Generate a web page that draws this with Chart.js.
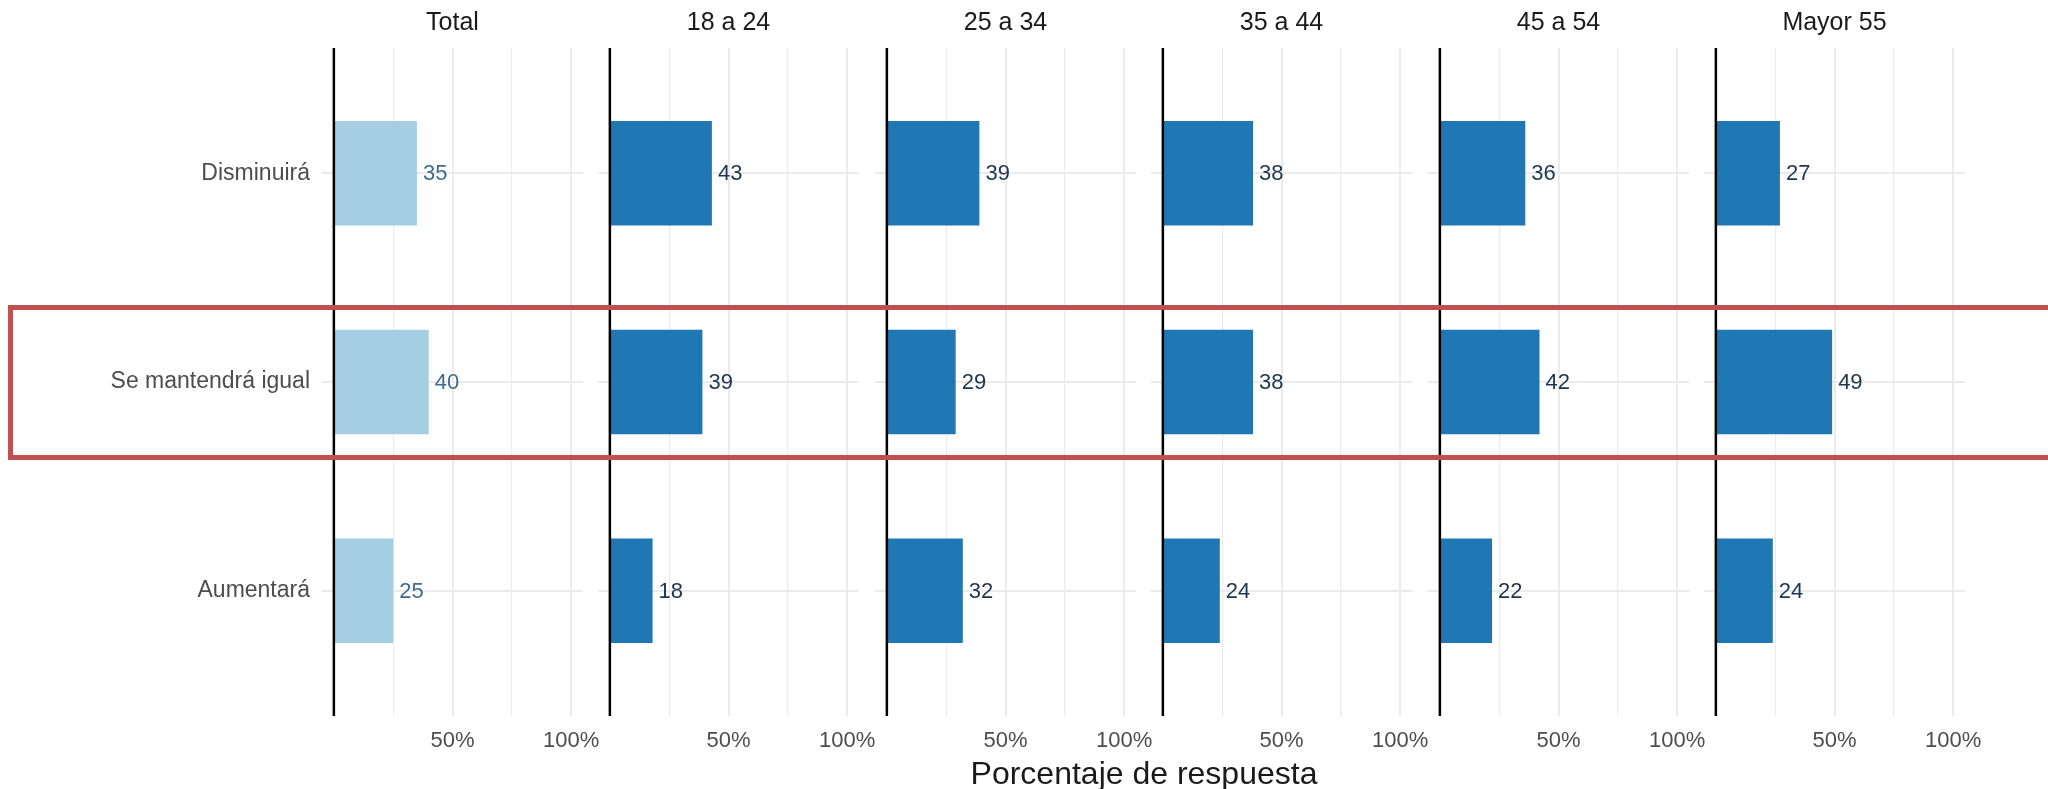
<!DOCTYPE html>
<html lang="es">
<head>
<meta charset="utf-8">
<script src="https://cdn.jsdelivr.net/npm/chart.js@4/dist/chart.umd.min.js"></script>
<style>
  body { margin: 0; width: 2048px; height: 789px; background: #fff; position: relative; overflow: hidden;
         font-family: 'Liberation Sans', Arial, sans-serif; }
  canvas { position: absolute; top: 0; }
  #xtitle { position: absolute; left: 1144px; top: 756px; transform: translateX(-50%);
            font-size: 32px; line-height: 34px; color: #1a1a1a; white-space: nowrap; }
  #highlight { position: absolute; left: 8px; top: 305px; width: 2100px; height: 155px;
               box-sizing: border-box; border: 5px solid #c0504d; z-index: 5; pointer-events: none; }
</style>
</head>
<body>
<div id="panels"></div>
<div id="xtitle">Porcentaje de respuesta</div>
<div id="highlight"></div>
<script>
// Datos
const categories = ['Disminuirá', 'Se mantendrá igual', 'Aumentará'];
const panelTitles = ['Total', '18 a 24', '25 a 34', '35 a 44', '45 a 54', 'Mayor 55'];
const total = [35, 40, 25];
const age18to24 = [43, 39, 18];
const age25to34 = [39, 29, 32];
const age35to44 = [38, 38, 24];
const age45to54 = [36, 42, 22];
const age55plus = [27, 49, 24];
const xTicks = [0, 25, 50, 75, 100];
const xTickLabels = ['', '', '50%', '', '100%'];

const panelValues = [total, age18to24, age25to34, age35to44, age45to54, age55plus];

// etiquetas de valor + linea vertical en 0
const valueLabels = {
    id: 'valueLabels',
    afterDatasetsDraw(chart, args, opts) {
        const { ctx, chartArea, scales } = chart;
        const x0 = scales.x.getPixelForValue(0);
        ctx.save();
        ctx.strokeStyle = '#000';
        ctx.lineWidth = 2.5;
        ctx.beginPath();
        ctx.moveTo(x0, chartArea.top);
        ctx.lineTo(x0, chartArea.bottom);
        ctx.stroke();

        ctx.font = '22px "Liberation Sans", Arial, sans-serif';
        ctx.fillStyle = opts.color;
        ctx.textAlign = 'left';
        ctx.textBaseline = 'middle';
        const ds = chart.data.datasets[0];
        chart.getDatasetMeta(0).data.forEach((bar, i) => {
            ctx.fillText(String(ds.data[i].x), bar.x + 6, bar.y + 1);
        });
        ctx.restore();
    }
};

const container = document.getElementById('panels');
const zeroStart = 322;     // borde izquierdo del primer panel
const panelStep = 276.4;
const areaWidth = 261;

panelValues.forEach((values, p) => {
    const isFirst = p === 0;
    const yWidth = isFirst ? 322 : 20;
    const left = Math.round(zeroStart + panelStep * p) - yWidth;
    const canvas = document.createElement('canvas');
    canvas.width = yWidth + areaWidth + 30;
    canvas.height = 789;
    canvas.style.left = left + 'px';
    container.appendChild(canvas);

    new Chart(canvas.getContext('2d'), {
        type: 'bar',
        data: {
            datasets: [{
                data: values.map((v, i) => ({ x: v, y: i })),
                backgroundColor: isFirst ? '#a6cee3' : '#1f78b4',
                borderWidth: 0,
                categoryPercentage: 1,
                barPercentage: 0.5
            }]
        },
        options: {
            indexAxis: 'y',
            responsive: false,
            animation: false,
            layout: { padding: { left: 0, right: 30, top: 0, bottom: 0 } },
            plugins: {
                legend: { display: false },
                tooltip: { enabled: false },
                title: {
                    display: true,
                    text: panelTitles[p],
                    fullSize: false,
                    color: '#1a1a1a',
                    font: { family: 'Liberation Sans', size: 25, weight: 'normal' },
                    padding: { top: 8, bottom: 10 }
                },
                valueLabels: { color: isFirst ? '#416b8c' : '#1e3550' }
            },
            scales: {
                x: {
                    type: 'linear',
                    min: -5,
                    max: 105,
                    afterBuildTicks: s => { s.ticks = xTicks.map(v => ({ value: v })); },
                    afterFit: s => { s.height = 73; },
                    border: { display: false },
                    grid: {
                        drawTicks: false,
                        color: c => c.tick && c.tick.value === 0 ? 'rgba(0,0,0,0)' : '#ebebeb',
                        lineWidth: c => c.tick && c.tick.value % 50 === 0 ? 2 : 1.2
                    },
                    ticks: {
                        padding: 12,
                        maxRotation: 0,
                        autoSkip: false,
                        color: '#4d4d4d',
                        font: { family: 'Liberation Sans', size: 22 },
                        callback: (v, i) => xTickLabels[i]
                    }
                },
                y: {
                    type: 'linear',
                    min: -0.6,
                    max: 2.6,
                    reverse: true,
                    offset: false,
                    afterBuildTicks: s => { s.ticks = categories.map((c, i) => ({ value: i })); },
                    afterFit: s => { s.width = yWidth; },
                    border: { display: false },
                    grid: { offset: false, drawTicks: false, color: '#ebebeb', lineWidth: 2 },
                    ticks: {
                        display: isFirst,
                        padding: 12,
                        autoSkip: false,
                        color: '#4d4d4d',
                        font: { family: 'Liberation Sans', size: 23 },
                        callback: (v, i) => categories[i]
                    }
                }
            }
        },
        plugins: [valueLabels]
    });
});
</script>
</body>
</html>
